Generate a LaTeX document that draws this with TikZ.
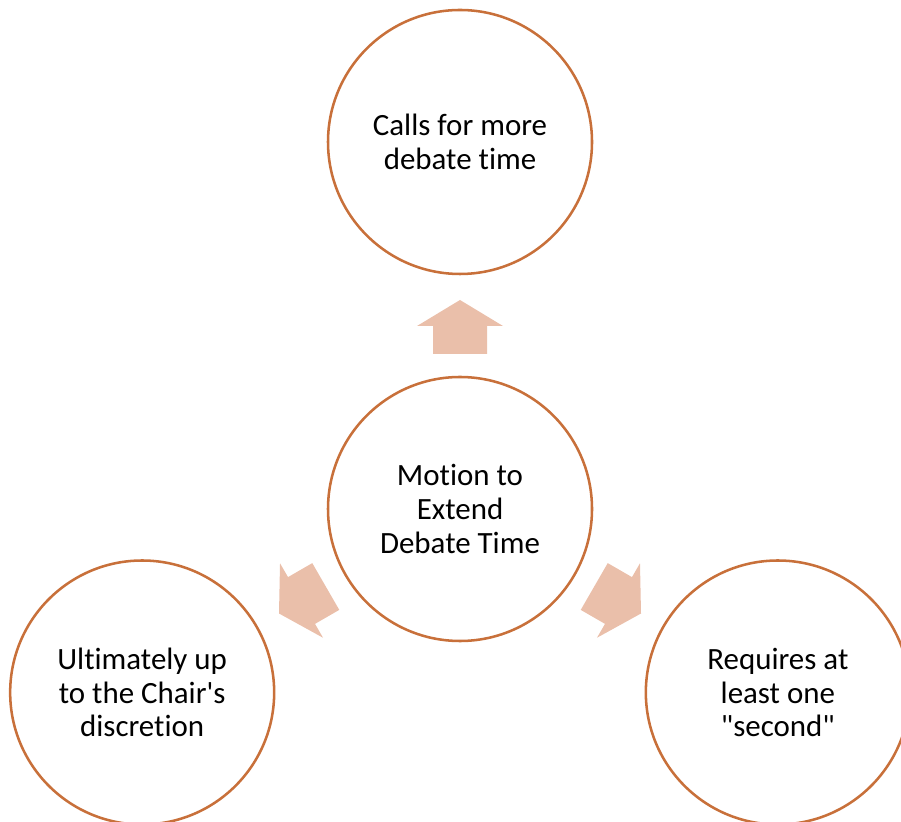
\documentclass[tikz,border=0pt]{standalone}
\usepackage{fontspec}
\newfontfamily\bubblefont{Carlito}[Ligatures=NoCommon]
\usetikzlibrary{positioning}
\definecolor{ringline}{RGB}{200,112,58}
\definecolor{arrowfill}{RGB}{234,191,170}

\begin{document}
\begin{tikzpicture}[every node/.style={font=\bubblefont\fontsize{22}{24}\selectfont},
  bubble/.style={circle,draw=ringline,line width=1.8pt,fill=white,minimum size=6.6cm,inner sep=0pt,align=center},
  blockarrow/.style={fill=arrowfill,draw=none}]
\useasboundingbox (0,0) rectangle (22.525,20.525);
\node[bubble] (motion) at (11.5,7.8) {Motion to\\Extend\\Debate Time};
\node[bubble] (more) at ([shift={(90:9.175)}]motion.center) {Calls for more\\debate time};
\node[bubble] (chair) at ([shift={(210:9.175)}]motion.center) {Ultimately up\\to the Chair's\\discretion};
\node[bubble] (second) at ([shift={(330:9.175)}]motion.center) {Requires at\\least one\\"second"};
% block arrows out of the middle circle
\foreach \a in {90,210,330}
  \fill[blockarrow,shift={(motion.center)},rotate=\a] (3.875,0.675) -- (4.575,0.675) -- (4.575,1.075) -- (5.225,0) -- (4.575,-1.075) -- (4.575,-0.675) -- (3.875,-0.675) -- cycle;
\end{tikzpicture}
\end{document}
